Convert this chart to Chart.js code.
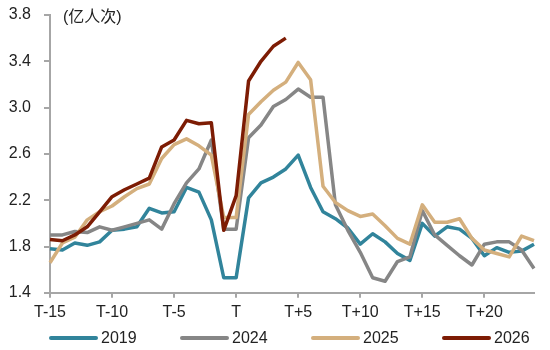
<!DOCTYPE html>
<html>
<head>
<meta charset="utf-8">
<script src="https://cdn.jsdelivr.net/npm/chart.js@4/dist/chart.umd.min.js"></script>
<style>
html,body{margin:0;padding:0;background:#fff;}
#wrap{width:550px;height:350px;}
</style>
</head>
<body>
<div id="wrap"><canvas id="c" width="550" height="350"></canvas></div>
<script>
const categories = [];
for (let k = -15; k <= 24; k++) categories.push(k === 0 ? 'T' : (k < 0 ? 'T' + k : 'T+' + k));

const seriesNames = ['2019', '2024', '2025', '2026'];
const v2019 = [1.78,1.77,1.83,1.81,1.84,1.94,1.95,1.97,2.13,2.09,2.10,2.31,2.27,2.03,1.53,1.53,2.22,2.35,2.40,2.47,2.59,2.31,2.10,2.04,1.96,1.82,1.91,1.84,1.74,1.68,2.00,1.89,1.97,1.95,1.87,1.72,1.79,1.75,1.76,1.82];
const v2024 = [1.90,1.90,1.93,1.92,1.97,1.94,1.97,2.00,2.03,1.95,2.17,2.35,2.47,2.72,1.95,1.95,2.74,2.85,3.01,3.07,3.16,3.09,3.09,2.16,1.94,1.75,1.53,1.50,1.67,1.71,2.11,1.90,1.81,1.72,1.64,1.82,1.84,1.84,1.77,1.61];
const v2025 = [1.66,1.83,1.88,2.03,2.10,2.15,2.23,2.30,2.34,2.56,2.68,2.73,2.67,2.59,2.05,2.05,2.94,3.05,3.15,3.22,3.39,3.24,2.32,2.18,2.11,2.06,2.08,1.98,1.87,1.82,2.16,2.01,2.01,2.04,1.87,1.77,1.74,1.71,1.89,1.85];
const v2026 = [1.86,1.85,1.90,1.97,2.10,2.23,2.29,2.34,2.39,2.66,2.72,2.89,2.86,2.87,1.94,2.24,3.23,3.40,3.53,3.60];
const yTicks = [1.4, 1.8, 2.2, 2.6, 3.0, 3.4, 3.8];
const unitLabel = '(亿人次)';

const colors = ['#31849b', '#868686', '#d4af7d', '#7d1c04'];
const values = [v2019, v2024, v2025, v2026];
const axisColor = '#a6a6a6';
const FONT = "'Liberation Sans', Arial, sans-serif";

const datasets = values.map((v, k) => ({
  label: seriesNames[k],
  data: v,
  borderColor: colors[k],
  backgroundColor: colors[k],
  borderWidth: 3.5,
  pointRadius: 0,
  tension: 0,
  fill: false,
  borderJoinStyle: 'round',
  order: 3 - k
}));

const extras = {
  id: 'extras',
  afterDraw(chart) {
    const ctx = chart.ctx, a = chart.chartArea;
    ctx.save();
    ctx.fillStyle = '#222';
    ctx.font = "16px 'Liberation Sans', 'Noto Sans CJK SC', sans-serif";
    ctx.textBaseline = 'middle';
    ctx.textAlign = 'left';
    ctx.fillText(unitLabel, a.left + 13, 18);
    // legend
    const y = 338;
    seriesNames.forEach((n, k) => {
      const x0 = a.left + k * 131;
      ctx.strokeStyle = colors[k];
      ctx.lineWidth = 4;
      ctx.lineCap = 'round';
      ctx.beginPath();
      ctx.moveTo(x0 + 1, y);
      ctx.lineTo(x0 + 46, y);
      ctx.stroke();
      ctx.fillStyle = '#222';
      ctx.font = "16px " + FONT;
      ctx.fillText(n, x0 + 51, y + 1);
    });
    ctx.restore();
  }
};

new Chart(document.getElementById('c'), {
  type: 'line',
  data: { labels: categories, datasets },
  options: {
    responsive: false,
    animation: false,
    layout: { padding: { left: 8, right: 16, top: 15, bottom: 23 } },
    plugins: { legend: { display: false }, tooltip: { enabled: false } },
    scales: {
      x: {
        offset: false,
        afterFit: (s) => { s.paddingLeft = 0; s.paddingRight = 0; },
        grid: {
          drawOnChartArea: false,
          drawTicks: true,
          tickLength: 5,
          color: axisColor,
          lineWidth: 2
        },
        border: { color: axisColor, width: 2 },
        ticks: {
          autoSkip: false,
          maxRotation: 0,
          padding: 5,
          color: '#222',
          font: { family: FONT, size: 16 },
          callback: function (val, idx) { return idx % 5 === 0 ? categories[idx] : null; }
        }
      },
      y: {
        min: 1.4,
        max: 3.8,
        afterBuildTicks: (s) => { s.ticks = yTicks.map(v => ({ value: v })); },
        afterFit: (s) => { s.width = 42; s.paddingTop = 0; s.paddingBottom = 0; },
        grid: {
          drawOnChartArea: false,
          drawTicks: true,
          tickLength: 6,
          color: axisColor,
          lineWidth: 2
        },
        border: { color: axisColor, width: 2 },
        ticks: {
          padding: 13,
          color: '#222',
          font: { family: FONT, size: 16 },
          callback: (v) => Number(v).toFixed(1)
        }
      }
    }
  },
  plugins: [extras]
});
</script>
</body>
</html>
